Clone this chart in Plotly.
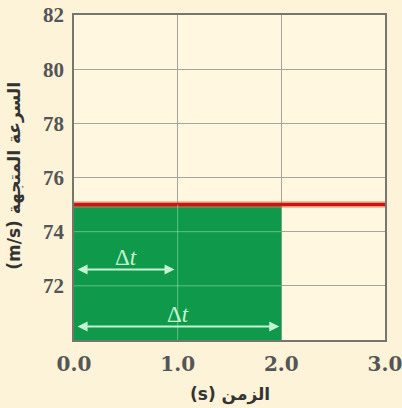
import plotly.graph_objects as go

# data
time_s = [0.0, 3.0]
velocity = [75, 75]
area_time = [0.0, 2.0]
area_velocity = [75, 75]
x_ticks = [0, 1, 2, 3]
x_labels = ["0.0", "1.0", "2.0", "3.0"]
y_ticks = [72, 74, 76, 78, 80, 82]
arrow_start = [0.02, 0.02]
arrow_end = [0.97, 1.98]
arrow_y = [72.6, 70.5]
label_x = [0.5, 1.0]
label_y = [73.05, 70.95]

GREEN = "#0e9a4a"
LIGHT = "#c6f2d4"

fig = go.Figure()
fig.add_trace(go.Scatter(x=area_time, y=area_velocity, mode="lines", fill="tozeroy",
                         fillcolor=GREEN, line=dict(width=0, color=GREEN),
                         hoverinfo="skip", showlegend=False))
# glow under red line
fig.add_trace(go.Scatter(x=time_s, y=velocity, mode="lines",
                         line=dict(color="rgba(240,120,60,0.45)", width=7),
                         hoverinfo="skip", showlegend=False))
fig.add_trace(go.Scatter(x=time_s, y=velocity, mode="lines",
                         line=dict(color="#c8141c", width=3.5),
                         showlegend=False))

# light grid lines across the green area
for xv in x_ticks:
    if area_time[0] < xv < area_time[1]:
        fig.add_shape(type="line", xref="x", yref="y", x0=xv, x1=xv, y0=70, y1=area_velocity[0],
                      line=dict(color="rgba(200,240,210,0.45)", width=1), layer="above")
for yv in y_ticks:
    if yv < area_velocity[0]:
        fig.add_shape(type="line", xref="x", yref="y", x0=area_time[0], x1=area_time[1], y0=yv, y1=yv,
                      line=dict(color="rgba(200,240,210,0.45)", width=1), layer="above")

for xs, xe, yy in zip(arrow_start, arrow_end, arrow_y):
    fig.add_annotation(x=xe, y=yy, ax=xs, ay=yy, xref="x", yref="y", axref="x", ayref="y",
                       showarrow=True, arrowhead=2, arrowside="end+start", arrowsize=1,
                       arrowwidth=2, arrowcolor=LIGHT, text="")
for lx, ly in zip(label_x, label_y):
    fig.add_annotation(x=lx, y=ly, xref="x", yref="y", showarrow=False,
                       text="Δ<i>t</i>", font=dict(family="Liberation Serif", size=23, color=LIGHT))

# axis titles
fig.add_annotation(x=-0.19, y=0.505, xref="paper", yref="paper", showarrow=False,
                   textangle=-90, xanchor="center", yanchor="middle",
                   text="<b>(m/s) السرعة المتجهة</b>",
                   font=dict(family="DejaVu Sans", size=17, color="#333333"))
fig.add_annotation(x=0.5, y=-0.169, xref="paper", yref="paper", showarrow=False,
                   xanchor="center", yanchor="middle",
                   text="<b>(s) الزمن</b>",
                   font=dict(family="DejaVu Sans", size=17, color="#333333"))

fig.update_layout(
    width=402, height=408,
    margin=dict(l=74, r=17, t=15, b=68, autoexpand=False),
    paper_bgcolor="#fcf3d9",
    plot_bgcolor="#fff7df",
    font=dict(family="Liberation Serif", size=17, color="#505050"),
)
fig.update_xaxes(range=[0, 3], tickvals=x_ticks, ticktext=x_labels,
                 showgrid=True, gridcolor="#a5a59e", gridwidth=1.2,
                 showline=True, linecolor="#76766f", linewidth=1.8, mirror=True,
                 ticks="", zeroline=False, automargin=False, ticklabelstandoff=5,
                 ticklabeloverflow="allow",
                 tickfont=dict(family="DejaVu Serif", size=20, color="#555555", weight="bold"))
fig.update_yaxes(range=[70, 82], tickvals=y_ticks,
                 showgrid=True, gridcolor="#a5a59e", gridwidth=1.2,
                 showline=True, linecolor="#76766f", linewidth=1.8, mirror=True,
                 ticks="", zeroline=False, automargin=False, ticklabelstandoff=4,
                 ticklabeloverflow="allow",
                 tickfont=dict(family="Liberation Serif", size=21, color="#555555", weight="bold"))

fig.write_html("out.html", config={"displayModeBar": False},
               post_script="document.body.style.margin='0';document.body.style.background='#fcf3d9';")
